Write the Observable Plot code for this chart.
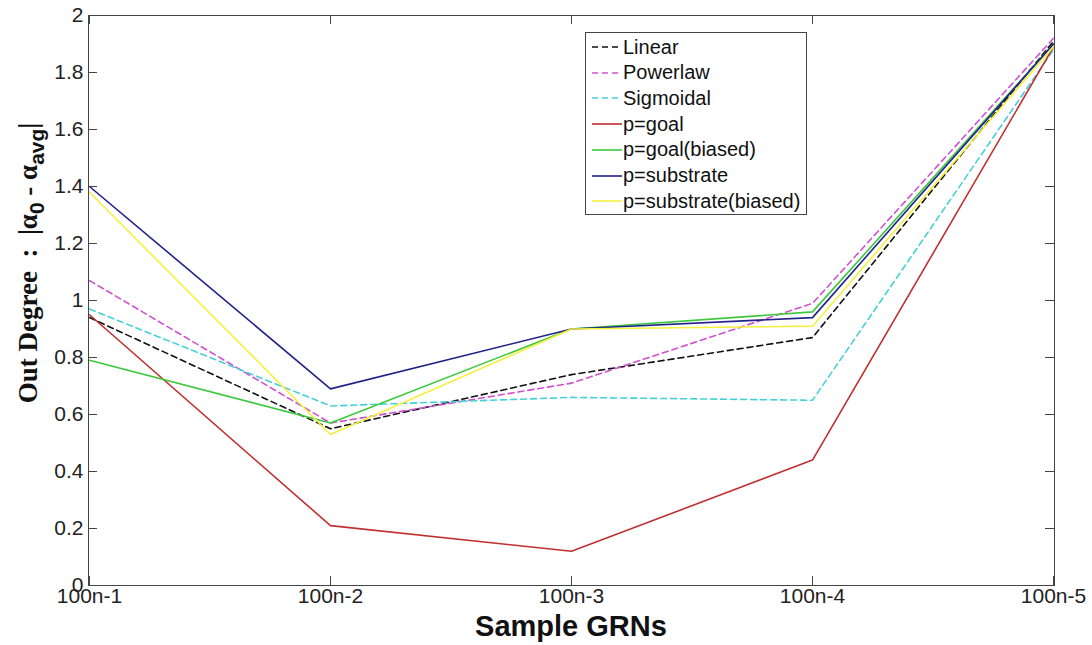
<!DOCTYPE html>
<html>
<head>
<meta charset="utf-8">
<script src="https://cdn.jsdelivr.net/npm/d3@7"></script>
<script src="https://cdn.jsdelivr.net/npm/@observablehq/plot@0.6"></script>
<style>
  html, body { margin: 0; padding: 0; background: #fff; }
  #wrap { position: relative; width: 1092px; height: 645px; overflow: hidden; }
  #legend { position: absolute; left: 585px; top: 32px; width: 222px; height: 183px;
    border: 1px solid #444; background: #fff; box-sizing: border-box;
    font-family: "Liberation Sans", Arial, sans-serif; font-size: 20px; color: #111; }
  .row { position: absolute; left: 0; height: 26px; display: flex; align-items: center; }
  .row svg { margin-left: 6px; margin-right: 1px; }
</style>
</head>
<body>
<div id="wrap"></div>
<script>
// ---- data ----
const samples = ["100n-1", "100n-2", "100n-3", "100n-4", "100n-5"];
const seriesNames = ["Linear", "Powerlaw", "Sigmoidal", "p=goal", "p=goal(biased)", "p=substrate", "p=substrate(biased)"];
const linear            = [0.94, 0.55, 0.74, 0.87, 1.91];
const powerlaw          = [1.07, 0.57, 0.71, 0.99, 1.92];
const sigmoidal         = [0.97, 0.63, 0.66, 0.65, 1.88];
const pGoal             = [0.95, 0.21, 0.12, 0.44, 1.89];
const pGoalBiased       = [0.79, 0.57, 0.90, 0.96, 1.90];
const pSubstrate        = [1.40, 0.69, 0.90, 0.94, 1.90];
const pSubstrateBiased  = [1.38, 0.53, 0.90, 0.91, 1.89];
const yTicks = [0, 0.2, 0.4, 0.6, 0.8, 1, 1.2, 1.4, 1.6, 1.8, 2];
const yTickLabels = ["0", "0.2", "0.4", "0.6", "0.8", "1", "1.2", "1.4", "1.6", "1.8", "2"];

// ---- styles ----
const seriesValues = [linear, powerlaw, sigmoidal, pGoal, pGoalBiased, pSubstrate, pSubstrateBiased];
const colors = ["#111111", "#d050d0", "#45d0d8", "#c03030", "#3cc83c", "#22228a", "#f4f040"];
const dashes = ["6,4", "6,4", "6,4", null, null, null, null];

const rows = [];
seriesNames.forEach((s, i) => samples.forEach((x, j) => rows.push({series: s, sample: x, value: seriesValues[i][j]})));

const W = 1092, H = 645, mL = 88, mR = 38, mT = 15, mB = 60;
const pw = W - mL - mR, ph = H - mT - mB, tk = 9;

const lineMarks = seriesNames.map((s, i) =>
  Plot.line(rows.filter(r => r.series === s), {
    x: "sample", y: "value", stroke: colors[i], strokeWidth: 1.6,
    strokeDasharray: dashes[i] || undefined
  })
);

const plot = Plot.plot({
  width: W, height: H,
  marginLeft: mL, marginRight: mR, marginTop: mT, marginBottom: mB,
  style: { fontFamily: "'Liberation Sans', Arial, sans-serif", fontSize: "21px", color: "#222", background: "#fff" },
  x: { type: "point", domain: samples, padding: 0, label: null },
  y: { domain: [0, 2], label: null },
  marks: [
    ...lineMarks,
    Plot.frame({ stroke: "#444", strokeWidth: 1 }),
    Plot.tickY(yTicks, { y: d => d, insetRight: pw - tk, stroke: "#444" }),
    Plot.tickY(yTicks, { y: d => d, insetLeft: pw - tk, stroke: "#444" }),
    Plot.tickX(samples, { x: d => d, insetTop: ph - tk, stroke: "#444" }),
    Plot.tickX(samples, { x: d => d, insetBottom: ph - tk, stroke: "#444" }),
    Plot.axisY(yTicks, { tickSize: 0, tickPadding: 5, label: null, fontSize: 21,
      tickFormat: d => yTickLabels[yTicks.indexOf(d)] }),
    Plot.axisX(samples, { tickSize: 0, tickPadding: 3, label: null, fontSize: 21 })
  ]
});

const svg = d3.select(plot);
// y-axis label
const yl = svg.append("text")
  .attr("transform", `translate(37,263) rotate(-90)`)
  .attr("text-anchor", "middle")
  .style("font-family", "'Liberation Serif', 'DejaVu Serif', serif")
  .style("font-weight", "bold").style("font-size", "27px").attr("fill", "#111");
yl.append("tspan").text("Out Degree  :  |α");
yl.append("tspan").attr("dy", 7).style("font-family", "'Liberation Sans', Arial, sans-serif").style("font-size", "21px").text("0");
yl.append("tspan").attr("dy", -7).text(" - α");
yl.append("tspan").attr("dy", 7).style("font-family", "'Liberation Sans', Arial, sans-serif").style("font-size", "21px").text("avg");
yl.append("tspan").attr("dy", -7).text("|");
// x-axis label
svg.append("text")
  .attr("x", mL + pw / 2).attr("y", 636)
  .attr("text-anchor", "middle")
  .style("font-family", "'Liberation Sans', Arial, sans-serif")
  .style("font-weight", "bold").style("font-size", "29px").attr("fill", "#111")
  .text("Sample GRNs");

const wrap = document.getElementById("wrap");
wrap.appendChild(plot);

// legend
const legend = document.createElement("div");
legend.id = "legend";
seriesNames.forEach((s, i) => {
  const row = document.createElement("div");
  row.className = "row";
  row.style.top = (1 + i * 25.7) + "px";
  row.innerHTML = `<svg width="30" height="10"><line x1="0" x2="30" y1="5" y2="5" stroke="${colors[i]}" stroke-width="1.6" ${dashes[i] ? `stroke-dasharray="${dashes[i]}"` : ""}/></svg><span>${s}</span>`;
  legend.appendChild(row);
});
wrap.appendChild(legend);
</script>
</body>
</html>
